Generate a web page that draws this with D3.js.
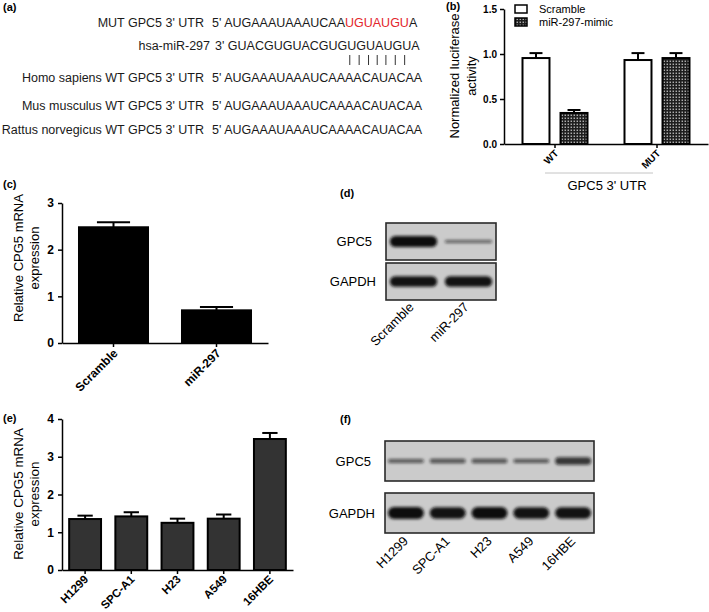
<!DOCTYPE html>
<html>
<head>
<meta charset="utf-8">
<script src="https://cdn.jsdelivr.net/npm/d3@7"></script>
<style>
  body { margin: 0; background: #fff; }
  svg { font-family: Arial, "Liberation Sans", sans-serif; }
</style>
</head>
<body>
<svg id="fig" width="709" height="612"></svg>
<script>
// ---------- data ----------
// (a) sequence alignment
const seqNames = ["MUT GPC5 3' UTR", "hsa-miR-297", "Homo sapiens WT GPC5 3' UTR",
                  "Mus musculus WT GPC5 3' UTR", "Rattus norvegicus WT GPC5 3' UTR"];
const seqStrands = ["5'", "3'", "5'", "5'", "5'"];
// [text, mutated?]
const seqParts = [
  [["AUGAAAUAAAUCAA", false], ["UGUAUGU", true], ["A", false]],
  [["GUACGUGUACGUGUGUAUGUA", false]],
  [["AUGAAAUAAAUCAAAACAUACAA", false]],
  [["AUGAAAUAAAUCAAAACAUACAA", false]],
  [["AUGAAAUAAAUCAAAACAUACAA", false]]
];
const pairedIdx = [13, 14, 15, 16, 17, 18, 19]; // paired bases of the miR

// (b) luciferase
const lucGroups = ["WT", "MUT"];
const lucSeries = ["Scramble", "miR-297-mimic"];
const lucScramble = [0.955, 0.933];
const lucScrambleErr = [0.055, 0.077];
const lucMimic = [0.345, 0.955];
const lucMimicErr = [0.033, 0.055];
const lucTicks = [0, 0.5, 1.0, 1.5];

// (c) qPCR after transfection
const kdGroups = ["Scramble", "miR-297"];
const kdMean = [2.48, 0.70];
const kdErr = [0.11, 0.07];
const kdTicks = [0, 1, 2, 3];

// (d) western blot, relative band strength
const blotProteins = ["GPC5", "GAPDH"];
const blotD = [[1.0, 0.28], [0.95, 0.95]];

// (e) qPCR in cell lines
const cellLines = ["H1299", "SPC-A1", "H23", "A549", "16HBE"];
const cellMean = [1.35, 1.42, 1.25, 1.36, 3.47];
const cellErr = [0.09, 0.11, 0.11, 0.11, 0.16];
const cellTicks = [0, 1, 2, 3, 4];

// (f) western blot in cell lines
const blotF = [[0.33, 0.37, 0.37, 0.35, 0.62], [1.0, 0.95, 1.0, 0.95, 0.95]];

// ---------- drawing ----------
const svg = d3.select("#fig");
const defs = svg.append("defs");

const pat = defs.append("pattern").attr("id", "dots")
  .attr("width", 3).attr("height", 3).attr("patternUnits", "userSpaceOnUse");
pat.append("rect").attr("width", 3).attr("height", 3).attr("fill", "#1e1e1e");
pat.append("rect").attr("x", 0.6).attr("y", 0.6).attr("width", 1.3).attr("height", 1.3).attr("fill", "#cfcfcf");

defs.append("filter").attr("id", "blur")
  .attr("x", "-20%").attr("y", "-150%").attr("width", "140%").attr("height", "400%")
  .append("feGaussianBlur").attr("stdDeviation", 1.6);

function panelLabel(x, y, t) {
  svg.append("text").attr("x", x).attr("y", y).attr("font-size", 11)
    .attr("font-weight", "bold").text(t);
}

function styleAxis(g, fs) {
  g.attr("font-family", "Arial, 'Liberation Sans', sans-serif").attr("font-size", fs)
    .attr("font-weight", "bold");
  g.selectAll(".domain").attr("stroke", "#000").attr("stroke-width", 1.5);
  g.selectAll(".tick line").attr("stroke", "#000").attr("stroke-width", 1.5);
  g.selectAll(".tick text").attr("fill", "#000");
}

// two-line rotated axis title; cx is the baseline of the first line
function yTitle(cx, cy, lines, fs, gap) {
  lines.forEach((l, i) => {
    svg.append("text")
      .attr("transform", `translate(${cx + i * gap},${cy}) rotate(-90)`)
      .attr("text-anchor", "middle").attr("font-size", fs).text(l);
  });
}

function errorBars(g, rows, x, w, y) {
  const eb = g.append("g").attr("stroke", "#000").attr("stroke-width", 2);
  rows.forEach(d => {
    const cx = x(d) + w / 2;
    eb.append("line").attr("x1", cx).attr("x2", cx).attr("y1", y(d.v)).attr("y2", y(d.v + d.e));
    eb.append("line").attr("x1", cx - w * 0.24).attr("x2", cx + w * 0.24)
      .attr("y1", y(d.v + d.e)).attr("y2", y(d.v + d.e));
  });
}

function rotatedLabels(g, cats, x, y0, dx, dy, fs, weight) {
  g.selectAll(null).data(cats).join("text")
    .attr("transform", d => `translate(${x(d) + dx},${y0 + dy}) rotate(-45)`)
    .attr("text-anchor", "end").attr("font-size", fs).attr("font-weight", weight)
    .text(d => d);
}

// ---- (a) ----
panelLabel(3, 11, "(a)");
const rowY = [27, 50, 82, 110, 134];
const ga = svg.append("g").attr("font-size", 12.5).attr("fill", "#1a1a1a");
let mirText = null;
seqNames.forEach((name, i) => {
  const isMir = seqStrands[i] === "3'";
  ga.append("text").attr("x", isMir ? 210 : 204).attr("y", rowY[i])
    .attr("text-anchor", "end").text(name);
  const t = ga.append("text").attr("x", isMir ? 215 : 212).attr("y", rowY[i]);
  t.append("tspan").text(seqStrands[i] + " ");
  seqParts[i].forEach(p => {
    t.append("tspan").attr("fill", p[1] ? "#e3262b" : "#1a1a1a").text(p[0]);
  });
  if (isMir) mirText = t.node();
});
const pipes = ga.append("g").attr("stroke", "#333").attr("stroke-width", 1);
pairedIdx.forEach(k => {
  const a = mirText.getStartPositionOfChar(k + 3).x;
  const b = mirText.getEndPositionOfChar(k + 3).x;
  const cx = (a + b) / 2 - 2;
  pipes.append("line").attr("x1", cx).attr("x2", cx).attr("y1", 55).attr("y2", 65);
});

// ---- (b) ----
panelLabel(446, 10, "(b)");
const gb = svg.append("g");
const bY = d3.scaleLinear().domain([0, 1.5]).range([144, 9]);
const bX = d3.scaleBand().domain(lucGroups).range([504, 708]);
const bX1 = d3.scaleBand().domain(lucSeries).range([-32.5, 32.5]).paddingInner(0.29);
const lucRows = lucGroups.flatMap((g, i) => [
  { g, s: lucSeries[0], v: lucScramble[i], e: lucScrambleErr[i] },
  { g, s: lucSeries[1], v: lucMimic[i], e: lucMimicErr[i] }
]);
const bFill = s => s === lucSeries[0] ? "#fff" : "url(#dots)";
const bBarX = d => bX(d.g) + bX.bandwidth() / 2 + bX1(d.s);
gb.selectAll("rect.bar").data(lucRows).join("rect").attr("class", "bar")
  .attr("x", bBarX).attr("y", d => bY(d.v))
  .attr("width", bX1.bandwidth()).attr("height", d => bY(0) - bY(d.v))
  .attr("fill", d => bFill(d.s)).attr("stroke", "#000").attr("stroke-width", 2);
errorBars(gb, lucRows, bBarX, bX1.bandwidth(), bY);
const bAxY = gb.append("g").attr("transform", "translate(504,0)")
  .call(d3.axisLeft(bY).tickValues(lucTicks).tickFormat(d3.format(".1f")).tickSize(4).tickSizeOuter(0).tickPadding(3));
styleAxis(bAxY, 10);
const bAxX = gb.append("g").attr("transform", "translate(0,144)")
  .call(d3.axisBottom(bX).tickSize(4).tickSizeOuter(0).tickFormat(""));
styleAxis(bAxX, 10);
rotatedLabels(gb, lucGroups, d => bX(d) + bX.bandwidth() / 2, 144, 4, 10, 10, "bold");
gb.append("line").attr("x1", 545).attr("x2", 653).attr("y1", 173).attr("y2", 173)
  .attr("stroke", "#c4c4c4").attr("stroke-width", 1);
gb.append("text").attr("x", 607).attr("y", 190).attr("text-anchor", "middle")
  .attr("font-size", 13).text("GPC5 3' UTR");
lucSeries.forEach((s, i) => {
  gb.append("rect").attr("x", 515).attr("y", 5 + 13 * i).attr("width", 12).attr("height", 8)
    .attr("fill", bFill(s)).attr("stroke", "#000").attr("stroke-width", 1.5);
  gb.append("text").attr("x", 539).attr("y", 13 + 13 * i).attr("font-size", 11).text(s);
});
yTitle(459, 76, ["Normalized luciferase", "activity"], 13, 17);

// ---- (c) ----
panelLabel(3, 188, "(c)");
const gc = svg.append("g");
const cY = d3.scaleLinear().domain([0, 3]).range([343, 203]);
const cX = d3.scaleBand().domain(kdGroups).range([62, 268]).paddingInner(0.33).paddingOuter(0.165);
const kdRows = kdGroups.map((c, i) => ({ c, v: kdMean[i], e: kdErr[i] }));
gc.selectAll("rect").data(kdRows).join("rect")
  .attr("x", d => cX(d.c)).attr("y", d => cY(d.v))
  .attr("width", cX.bandwidth()).attr("height", d => cY(0) - cY(d.v))
  .attr("fill", "#000").attr("stroke", "#000").attr("stroke-width", 2);
errorBars(gc, kdRows, d => cX(d.c), cX.bandwidth(), cY);
styleAxis(gc.append("g").attr("transform", "translate(62,0)")
  .call(d3.axisLeft(cY).tickValues(kdTicks).tickFormat(d3.format("d")).tickSize(4).tickSizeOuter(0).tickPadding(4)), 12);
styleAxis(gc.append("g").attr("transform", "translate(0,343)")
  .call(d3.axisBottom(cX).tickSize(4).tickSizeOuter(0).tickFormat("")), 12);
rotatedLabels(gc, kdGroups, d => cX(d) + cX.bandwidth() / 2, 343, 5, 11, 12, "bold");
yTitle(23, 258, ["Relative CPG5 mRNA", "expression"], 13, 16);

// ---- blots ----
function drawBlot(g, lanes, rows, x0, x1, boxes, fs) {
  rows.forEach((vals, r) => {
    const [y0, y1, maxH] = boxes[r];
    const id = "clip" + Math.random().toString(36).slice(2);
    g.append("clipPath").attr("id", id).append("rect")
      .attr("x", x0).attr("y", y0).attr("width", x1 - x0).attr("height", y1 - y0);
    g.append("rect").attr("x", x0).attr("y", y0).attr("width", x1 - x0).attr("height", y1 - y0)
      .attr("fill", "#cbcbcb");
    const cy = (y0 + y1) / 2;
    g.append("g").attr("clip-path", `url(#${id})`).selectAll("rect")
      .data(vals.map((v, i) => ({ lane: lanes.domain()[i], v })))
      .join("rect")
      .attr("x", d => lanes(d.lane) + lanes.bandwidth() * 0.07)
      .attr("width", lanes.bandwidth() * 0.86)
      .attr("y", d => cy - Math.max(2, maxH * d.v) / 2)
      .attr("height", d => Math.max(2, maxH * d.v))
      .attr("rx", d => Math.max(2, maxH * d.v) / 2)
      .attr("fill", "#111").attr("fill-opacity", d => 0.45 + 0.55 * d.v)
      .attr("filter", "url(#blur)");
    g.append("rect").attr("x", x0).attr("y", y0).attr("width", x1 - x0).attr("height", y1 - y0)
      .attr("fill", "none").attr("stroke", "#2a2a2a").attr("stroke-width", 1.6);
    g.append("text").attr("x", x0 - 10 - (r === 0 ? 4 : 0)).attr("y", cy + fs * 0.36)
      .attr("text-anchor", "end").attr("font-size", fs).text(blotProteins[r]);
  });
}

panelLabel(340, 197, "(d)");
const gd = svg.append("g");
const dL = d3.scaleBand().domain(kdGroups).range([386, 496]);
drawBlot(gd, dL, blotD, 386, 496, [[223, 260, 11], [263, 300, 11]], 13);
rotatedLabels(gd, kdGroups, d => dL(d) + dL.bandwidth() / 2, 300, 1, 8, 13, "normal");

// ---- (e) ----
panelLabel(3, 422, "(e)");
const ge = svg.append("g");
const eY = d3.scaleLinear().domain([0, 4]).range([570, 419]);
const eX = d3.scaleBand().domain(cellLines).range([62, 293]).paddingInner(0.31).paddingOuter(0.155);
const cellRows = cellLines.map((c, i) => ({ c, v: cellMean[i], e: cellErr[i] }));
ge.selectAll("rect").data(cellRows).join("rect")
  .attr("x", d => eX(d.c)).attr("y", d => eY(d.v))
  .attr("width", eX.bandwidth()).attr("height", d => eY(0) - eY(d.v))
  .attr("fill", "#333").attr("stroke", "#000").attr("stroke-width", 2);
errorBars(ge, cellRows, d => eX(d.c), eX.bandwidth(), eY);
styleAxis(ge.append("g").attr("transform", "translate(62,0)")
  .call(d3.axisLeft(eY).tickValues(cellTicks).tickFormat(d3.format("d")).tickSize(4).tickSizeOuter(0).tickPadding(4)), 12);
styleAxis(ge.append("g").attr("transform", "translate(0,570)")
  .call(d3.axisBottom(eX).tickSize(4).tickSizeOuter(0).tickFormat("")), 12);
rotatedLabels(ge, cellLines, d => eX(d) + eX.bandwidth() / 2, 570, 4, 10, 11.5, "bold");
yTitle(23, 494, ["Relative CPG5 mRNA", "expression"], 13.4, 16);

// ---- (f) ----
panelLabel(340, 423, "(f)");
const gf = svg.append("g");
const fL = d3.scaleBand().domain(cellLines).range([385, 594]);
drawBlot(gf, fL, blotF, 385, 594, [[441, 481, 12], [493, 533, 12]], 13);
rotatedLabels(gf, cellLines, d => fL(d) + fL.bandwidth() / 2, 533, 3, 9, 13, "normal");
</script>
</body>
</html>
